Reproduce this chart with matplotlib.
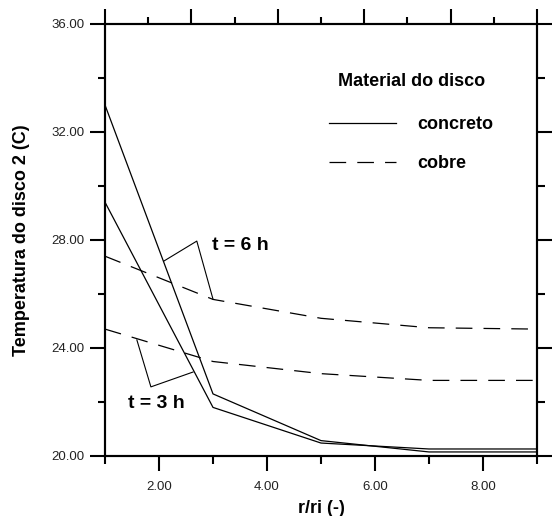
import numpy as np
import matplotlib
matplotlib.use('Agg')
import matplotlib.pyplot as plt
from matplotlib.ticker import MultipleLocator, FormatStrFormatter

plt.rcParams['font.family'] = ['Liberation Sans', 'DejaVu Sans']
plt.rcParams['lines.scale_dashes'] = False

# r/ri positions
r = [1, 3, 5, 7, 9]

# concreto (solid)
concreto_a = [33.0, 22.3, 20.57, 20.15, 20.15]
concreto_b = [29.4, 21.8, 20.48, 20.26, 20.26]

# cobre (dashed)
cobre_a = [27.4, 25.8, 25.1, 24.75, 24.7]
cobre_b = [24.7, 23.5, 23.05, 22.8, 22.8]

# bracket lines for the time labels
br6_x = [2.09, 2.70, 3.0]
br6_y = [27.22, 27.96, 25.81]
br3_x = [1.59, 1.85, 2.63]
br3_y = [24.30, 22.56, 23.11]

fig = plt.figure(figsize=(5.56, 5.16), dpi=100)
ax = fig.add_axes([105 / 556, 1 - 456 / 516, 432 / 556, 432 / 516])

dash = (0, (12, 8))
lw = 0.9
ax.plot(r, concreto_a, color='black', lw=lw, label='concreto')
ax.plot(r, concreto_b, color='black', lw=lw)
ax.plot(r, cobre_a, color='black', lw=lw, linestyle=dash, label='cobre')
ax.plot(r, cobre_b, color='black', lw=lw, linestyle=dash)

ax.plot(br6_x, br6_y, color='black', lw=0.8)
ax.plot(br3_x, br3_y, color='black', lw=0.8)

ax.text(3.5, 27.81, 't = 6 h', fontsize=14, fontweight='bold', ha='center', va='center')
ax.text(1.96, 21.96, 't = 3 h', fontsize=14, fontweight='bold', ha='center', va='center')

ax.set_xlim(1, 9)
ax.set_ylim(20, 36)

ax.xaxis.set_major_locator(MultipleLocator(2))
ax.xaxis.set_minor_locator(MultipleLocator(1))
ax.yaxis.set_major_locator(MultipleLocator(4))
ax.yaxis.set_minor_locator(MultipleLocator(2))
ax.xaxis.set_major_formatter(FormatStrFormatter('%.2f'))
ax.yaxis.set_major_formatter(FormatStrFormatter('%.2f'))

ax.tick_params(which='both', direction='out', width=1.5, colors='black',
               labelcolor='#222222', labelsize=9.5, right=True, top=False)
ax.tick_params(which='major', length=10.8)
ax.tick_params(which='minor', length=5.4)
ax.tick_params(axis='x', which='major', pad=7)
ax.tick_params(axis='y', which='major', pad=4)

for s in ax.spines.values():
    s.set_linewidth(1.5)

# top axis with its own divisions, no labels
axt = ax.twiny()
axt.set_xlim(0, 10)
axt.xaxis.set_major_locator(MultipleLocator(2))
axt.xaxis.set_minor_locator(MultipleLocator(1))
axt.tick_params(which='both', direction='out', width=1.5, labeltop=False)
axt.tick_params(which='major', length=10.8)
axt.tick_params(which='minor', length=5.4)
for s in axt.spines.values():
    s.set_linewidth(1.5)

ax.set_xlabel('r/ri (-)', fontsize=13, fontweight='bold', labelpad=5)
ax.set_ylabel('Temperatura do disco 2 (C)', fontsize=13, fontweight='bold', labelpad=15)

leg = ax.legend(loc='upper left', bbox_to_anchor=(329 / 556, 1 - 73 / 516),
                bbox_transform=fig.transFigure, frameon=False,
                title='Material do disco', fontsize=13,
                title_fontproperties={'weight': 'bold', 'size': 13},
                handlelength=3.7, handletextpad=1.2, labelspacing=1.2,
                borderpad=0, borderaxespad=0)
for t in leg.get_texts():
    t.set_fontweight('bold')
leg._legend_box.sep = 19

fig.savefig('out.png', dpi=100)
